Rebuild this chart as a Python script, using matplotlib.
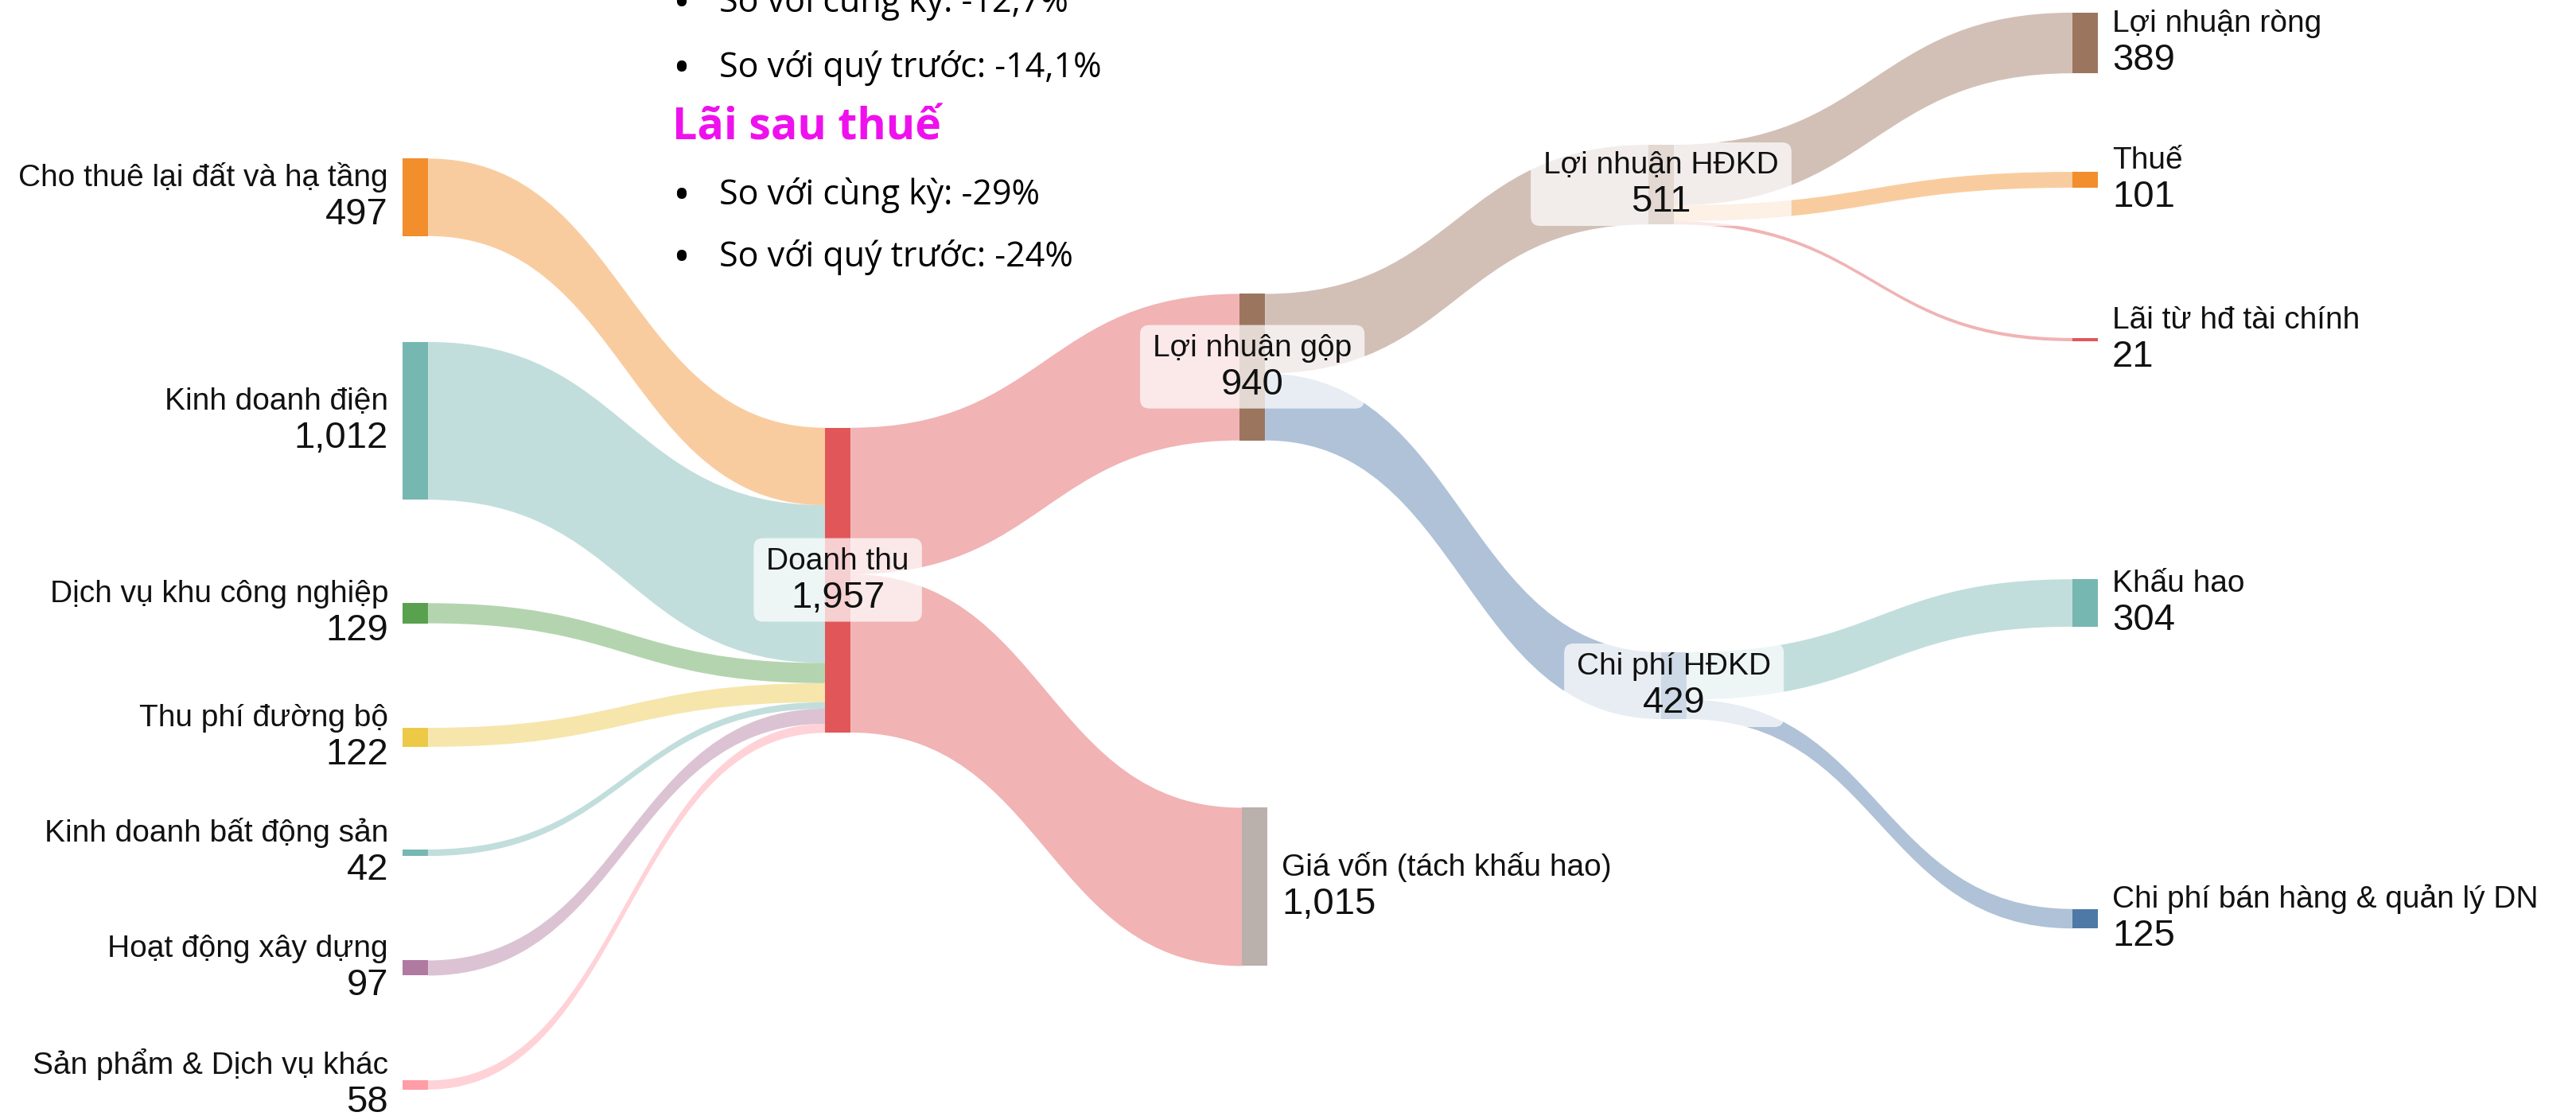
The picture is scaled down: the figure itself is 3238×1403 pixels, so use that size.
import numpy as np
import matplotlib.pyplot as plt
from matplotlib.path import Path
from matplotlib.patches import PathPatch, Rectangle, FancyBboxPatch

# canvas size in pixels (dpi 100)
W, H = 3238, 1403

# ---- data ----
node_names = ['Cho thuê lại đất và hạ tầng', 'Kinh doanh điện', 'Dịch vụ khu công nghiệp',
              'Thu phí đường bộ', 'Kinh doanh bất động sản', 'Hoạt động xây dựng',
              'Sản phẩm & Dịch vụ khác', 'Doanh thu', 'Lợi nhuận gộp',
              'Giá vốn (tách khấu hao)', 'Lợi nhuận HĐKD', 'Chi phí HĐKD',
              'Lợi nhuận ròng', 'Thuế', 'Lãi từ hđ tài chính', 'Khấu hao',
              'Chi phí bán hàng & quản lý DN']

node_colors = ['#f28e2b', '#76b7b2', '#59a14f', '#edc948', '#76b7b2', '#b07aa1', '#ff9da7',
               '#e15759', '#9c755f', '#bab0ac', '#9c755f', '#4e79a7',
               '#9c755f', '#f28e2b', '#e15759', '#76b7b2', '#4e79a7']

link_source = [0, 1, 2, 3, 4, 5, 6, 7, 7, 8, 8, 10, 10, 10, 11, 11]
link_target = [7, 7, 7, 7, 7, 7, 7, 8, 9, 10, 11, 12, 13, 14, 15, 16]
link_value = [497, 1012, 129, 122, 42, 97, 58, 940, 1015, 511, 429, 389, 101, 21, 304, 125]
link_colors = ['#f28e2b', '#76b7b2', '#59a14f', '#edc948', '#76b7b2', '#b07aa1', '#ff9da7',
               '#e15759', '#e15759', '#9c755f', '#4e79a7', '#9c755f', '#f28e2b', '#e15759',
               '#76b7b2', '#4e79a7']

note_title = 'Lãi sau thuế'
notes_before = ['So với cùng kỳ: -12,7%', 'So với quý trước: -14,1%']
notes_after = ['So với cùng kỳ: -29%', 'So với quý trước: -24%']

# ---- layout (fixed node arrangement, fractions of the canvas) ----
node_x = [0.1563, 0.1563, 0.1563, 0.1563, 0.1563, 0.1563, 0.1563, 0.3203, 0.4812, 0.4821,
          0.6399, 0.6449, 0.8045, 0.8045, 0.8045, 0.8045, 0.8045]
node_y = [0.1768, 0.3771, 0.5495, 0.6607, 0.7641, 0.8674, 0.9722, 0.5200, 0.3290, 0.7947,
          0.1654, 0.6144, 0.0385, 0.1611, 0.3043, 0.5403, 0.8232]
label_side = ['left'] * 7 + ['box', 'box', 'right', 'box', 'box'] + ['right'] * 5

scale = 0.196       # pixels per unit
node_w = 32
link_alpha = 0.45
label_font = ['Liberation Sans', 'DejaVu Sans']
note_font = ['Open Sans', 'DejaVu Sans']

n = len(node_names)
inflow = np.zeros(n)
outflow = np.zeros(n)
for s, t, v in zip(link_source, link_target, link_value):
    outflow[s] += v
    inflow[t] += v
node_value = np.maximum(inflow, outflow)

left = np.array(node_x) * W
mid = np.array(node_y) * H
top = mid - node_value * scale / 2

fig = plt.figure(figsize=(W / 100, H / 100), dpi=100)
ax = fig.add_axes([0, 0, 1, 1])
ax.set_xlim(0, W)
ax.set_ylim(H, 0)
ax.axis('off')

# links
out_off = np.zeros(n)
in_off = np.zeros(n)
for s, t, v, c in zip(link_source, link_target, link_value, link_colors):
    w = v * scale
    y0 = top[s] + out_off[s]
    y1 = top[t] + in_off[t]
    out_off[s] += w
    in_off[t] += w
    x0 = left[s] + node_w
    x1 = left[t]
    xm = (x0 + x1) / 2
    verts = [(x0, y0), (xm, y0), (xm, y1), (x1, y1),
             (x1, y1 + w), (xm, y1 + w), (xm, y0 + w), (x0, y0 + w), (x0, y0)]
    codes = [Path.MOVETO, Path.CURVE4, Path.CURVE4, Path.CURVE4,
             Path.LINETO, Path.CURVE4, Path.CURVE4, Path.CURVE4, Path.CLOSEPOLY]
    ax.add_patch(PathPatch(Path(verts, codes), facecolor=c, alpha=link_alpha,
                           edgecolor='none', lw=0, zorder=1))

# nodes
for i in range(n):
    ax.add_patch(Rectangle((left[i], top[i]), node_w, node_value[i] * scale,
                           facecolor=node_colors[i], edgecolor='none', zorder=2))

# node labels
boxed = []
for i in range(n):
    name = node_names[i]
    val = f'{node_value[i]:,.0f}'
    side = label_side[i]
    if side == 'left':
        x, ha = left[i] - 18, 'right'
    elif side == 'right':
        x, ha = left[i] + node_w + 18, 'left'
    else:
        x, ha = left[i] + node_w / 2, 'center'
    t1 = ax.text(x, mid[i] - 14, name, ha=ha, va='baseline', fontsize=28,
                 family=label_font, color='#111111', zorder=4)
    t2 = ax.text(x, mid[i] + 34, val, ha=ha, va='baseline', fontsize=34,
                 family=label_font, color='#111111', zorder=4)
    if side == 'box':
        boxed.append((i, t1, t2))

fig.canvas.draw()
renderer = fig.canvas.get_renderer()
for i, t1, t2 in boxed:
    bw = max(t1.get_window_extent(renderer).width, t2.get_window_extent(renderer).width) + 32
    cx = left[i] + node_w / 2
    ax.add_patch(FancyBboxPatch((cx - bw / 2, mid[i] - 53), bw, 105,
                                boxstyle='round,pad=0,rounding_size=12',
                                facecolor='white', edgecolor='none', alpha=0.72, zorder=3))

# notes block (first line is cut by the top edge, as in the original)
for txt, yb in zip(notes_before, [15, 97]):
    ax.text(845, yb + 8, '•', fontsize=42, family=note_font, color='black', va='baseline', zorder=5)
    ax.text(904, yb, txt, fontsize=31, family=note_font, color='black', va='baseline', zorder=5)
ax.text(845, 175, note_title, fontsize=40, fontweight='bold', family=note_font,
        color='#ee11ee', va='baseline', zorder=5)
for txt, yb in zip(notes_after, [257, 335]):
    ax.text(845, yb + 8, '•', fontsize=42, family=note_font, color='black', va='baseline', zorder=5)
    ax.text(904, yb, txt, fontsize=31, family=note_font, color='black', va='baseline', zorder=5)

fig.savefig('out.png', dpi=100, facecolor='white')
